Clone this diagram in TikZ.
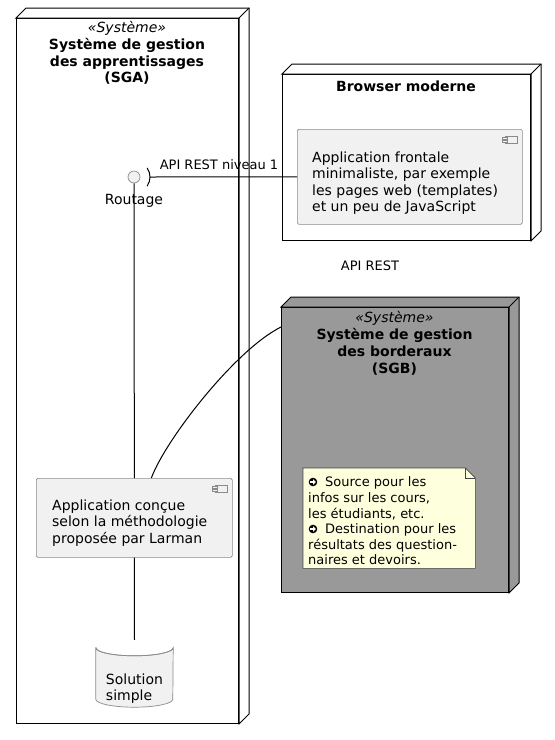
\documentclass[tikz,border=0pt]{standalone}
\usepackage{fontspec}
\setmainfont{DejaVu Sans}
\usetikzlibrary{calc}
\definecolor{compfill}{HTML}{F1F1F1}
\definecolor{compline}{HTML}{8A8A8A}
\definecolor{sgbfill}{HTML}{999999}
\definecolor{notefill}{HTML}{FEFFDD}
\definecolor{noteline}{HTML}{444444}
\newcommand\fA{\fontsize{14}{16.5}\selectfont}
\newcommand\fB{\fontsize{13}{15.6}\selectfont}
\newcommand\fT{\fontsize{14}{16.8}\selectfont}
\newcommand\threed[2]{%
  \path[draw=black, line width=1pt, fill=#2, line join=miter]
    (#1.north west) -- ++(10,-10) -- ($(#1.north east)+(10,-10)$)
    -- ($(#1.south east)+(10,-10)$) -- (#1.south east) -- (#1.north east) -- cycle;
  \draw[line width=1pt] (#1.north east) -- ++(10,-10);}
\newcommand\compicon[1]{%
  \draw[compline, fill=compfill, line width=0.6pt] ($(#1.north east)+(-17,7)$) rectangle ++(12,7);
  \draw[compline, fill=compfill, line width=0.6pt] ($(#1.north east)+(-20,8.3)$) rectangle ++(5,1.8);
  \draw[compline, fill=compfill, line width=0.6pt] ($(#1.north east)+(-20,11.1)$) rectangle ++(5,1.8);}
% circled arrow icon centred at #1
\newcommand\circarrow[1]{%
  \fill[black] (#1) circle (4.3);
  \fill[white] ($(#1)+(-2.8,-0.9)$) rectangle ($(#1)+(0.3,0.9)$);
  \fill[white] ($(#1)+(0,-2.8)$) -- ($(#1)+(2.9,0)$) -- ($(#1)+(0,2.8)$) -- cycle;}
\tikzset{
  nodebox/.style={draw=black, line width=1pt, anchor=north west, inner sep=0pt},
  compbox/.style={draw=compline, fill=compfill, line width=0.7pt, rounded corners=1.5pt, anchor=north west, inner sep=0pt},
  conn/.style={draw=black, line width=1pt},
  lbl/.style={inner sep=0pt, font=\fB},
  txt/.style={inner sep=0pt, align=left, font=\fA},
  ttl/.style={inner sep=0pt, align=center, font=\fT},
}
\begin{document}
\begin{tikzpicture}[x=1pt, y=-1pt]
\useasboundingbox (0,0) rectangle (555,740);
% SGA
\node[nodebox, fill=white, minimum width=222, minimum height=705] (sga) at (16,18) {};
\threed{sga}{white}
\node[ttl] (sgat) at (127,53) {{\itshape «Système»}\\\textbf{Système de gestion}\\\textbf{des apprentissages}\\\textbf{(SGA)}};
% Browser
\node[nodebox, fill=white, minimum width=248, minimum height=166] (br) at (282,74) {};
\threed{br}{white}
\node[ttl] (brt) at (406,86) {\textbf{Browser moderne}};
\node[compbox, minimum width=225, minimum height=95] (fe) at (297,129) {};
\compicon{fe}
\node[txt, anchor=west] (fet) at (312,183) {Application frontale\\minimaliste, par exemple\\les pages web (templates)\\et un peu de JavaScript};
% SGB
\node[nodebox, fill=sgbfill, minimum width=227, minimum height=285] (sgb) at (281,307) {};
\threed{sgb}{sgbfill}
\node[ttl] (sgbt) at (394.5,343.5) {{\itshape «Système»}\\\textbf{Système de gestion}\\\textbf{des borderaux}\\\textbf{(SGB)}};
% Note
\node[anchor=north west, inner sep=0pt, minimum width=172, minimum height=100] (note) at (303,468) {};
\path[draw=noteline, fill=notefill, line width=0.6pt]
  (note.north west) -- ($(note.north east)+(-10,0)$) -- ($(note.north east)+(0,10)$)
  -- (note.south east) -- (note.south west) -- cycle;
\draw[noteline, line width=0.6pt] ($(note.north east)+(-10,0)$) -- ++(0,10) -- ++(10,0);
\node[lbl, align=left, anchor=west] (notet) at (308,521) {\hspace*{17pt}Source pour les\\infos sur les cours,\\les étudiants, etc.\\\hspace*{17pt}Destination pour les\\résultats des question-\\naires et devoirs.};
\coordinate (ic1) at (313,482);
\coordinate (ic2) at (313,529);
\circarrow{ic1}
\circarrow{ic2}
% Interface
\node[circle, draw=compline, fill=compfill, line width=0.7pt, minimum size=12, inner sep=0pt] (rout) at (134,177) {};
\draw[line width=1pt] ($(rout.center)+({16*cos(35)},{16*sin(35)})$) arc (35:-35:16);
\coordinate (arcR) at (150,177);
\node[txt] (routl) at (134,201) {Routage};
% App component
\node[compbox, minimum width=196, minimum height=79] (app) at (36,478) {};
\compicon{app}
\node[txt, anchor=west] (appt) at (52,523) {Application conçue\\selon la méthodologie\\proposée par Larman};
% Database
\node[inner sep=0pt, minimum width=77, minimum height=67] (db) at (134.5,673.5) {};
\path[draw=compline, fill=compfill, line width=0.7pt]
  ($(db.north west)+(0,8)$) -- ($(db.south west)+(0,-8)$) arc (180:0:38.5 and 8)
  -- ($(db.north east)+(0,8)$) arc (0:180:38.5 and 8) -- cycle;
\draw[compline, line width=0.7pt] ($(db.north west)+(0,8)$) arc (180:0:38.5 and 8);
\node[txt] (dbt) at (134.5,688.5) {Solution\\simple};
% Connectors
\draw[conn] (arcR) -- (fe.west);
\node[lbl] (api1) at (219,165) {API REST niveau 1};
\draw[conn] (rout.south) -- (app.north);
\draw[conn] (app.south) -- (db.north);
\coordinate (appc) at ($(app.north)+(17,0)$);
\coordinate (sgbc) at ($(sgb.north west)+(0,20)$);
\draw[conn] (appc) .. controls +(14,-38) and +(-46,23) .. (sgbc);
\node[lbl] (api2) at (370,266) {API REST};
\end{tikzpicture}
\end{document}
